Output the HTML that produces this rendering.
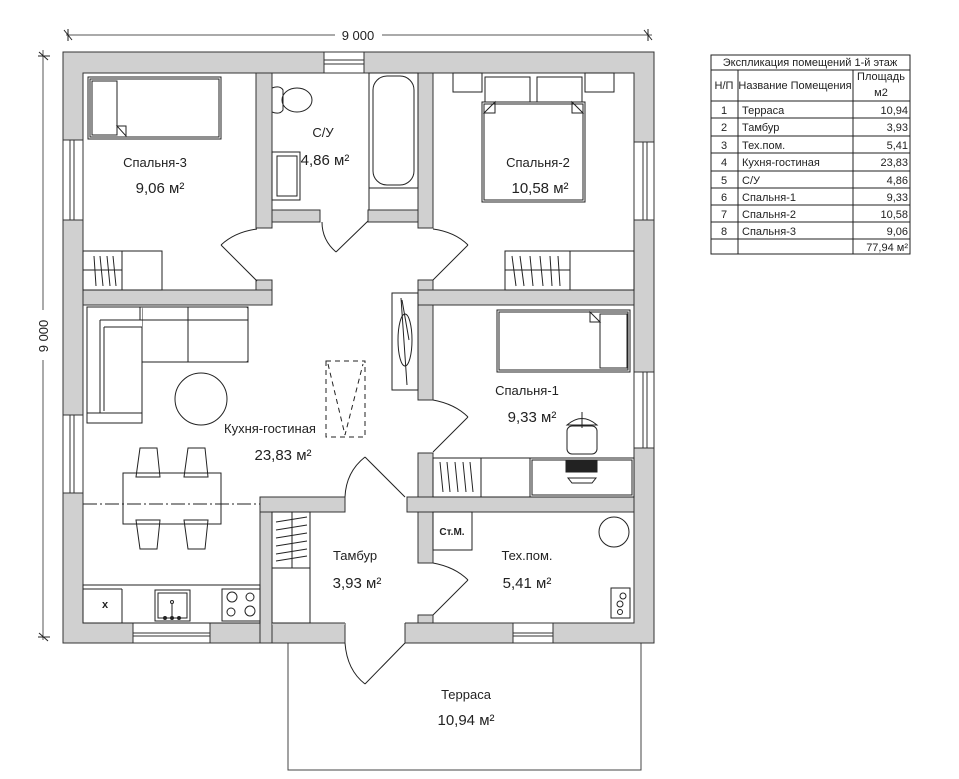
<!DOCTYPE html>
<html><head><meta charset="utf-8"><style>
html,body{margin:0;padding:0;background:#fff;}
svg{display:block;}
text{font-family:"Liberation Sans Narrow","Liberation Sans",sans-serif;fill:#222;}
</style></head><body>
<svg width="959" height="779" viewBox="0 0 959 779" xmlns="http://www.w3.org/2000/svg">
<g stroke="#222" stroke-width="1" fill="none">
<!-- dimension lines -->
<line x1="66" y1="35" x2="335" y2="35" stroke="#555"/>
<line x1="382" y1="35" x2="652" y2="35" stroke="#555"/>
<line x1="64" y1="30" x2="72" y2="40"/><line x1="68" y1="29" x2="68" y2="41"/>
<line x1="644" y1="30" x2="652" y2="40"/><line x1="648" y1="29" x2="648" y2="41"/>
<line x1="43" y1="50" x2="43" y2="310" stroke="#555"/>
<line x1="43" y1="360" x2="43" y2="640" stroke="#555"/>
<line x1="38" y1="56" x2="50" y2="56"/><line x1="39" y1="52" x2="48" y2="60"/>
<line x1="38" y1="637" x2="50" y2="637"/><line x1="39" y1="633" x2="48" y2="641"/>
</g>
<text x="358" y="40" font-size="13" text-anchor="middle">9 000</text>
<text transform="translate(48,336) rotate(-90)" font-size="13" text-anchor="middle">9 000</text>

<!-- terrace -->
<rect x="288" y="643" width="353" height="127" fill="none" stroke="#444"/>

<!-- walls -->
<g fill="#d0d0d0" stroke="#333" stroke-width="1">
<path fill-rule="evenodd" d="M63 52 H654 V643 H63 Z M83 73 V623 H634 V73 Z"/>
<rect x="256" y="73" width="16" height="155"/>
<rect x="256" y="280" width="16" height="25"/>
<rect x="83" y="290" width="189" height="15"/>
<rect x="272" y="210" width="48" height="12"/>
<rect x="368" y="210" width="50" height="12"/>
<rect x="418" y="73" width="15" height="155"/>
<rect x="418" y="280" width="15" height="120"/>
<rect x="418" y="290" width="216" height="15"/>
<rect x="418" y="453" width="15" height="44"/>
<rect x="407" y="497" width="227" height="15"/>
<rect x="418" y="512" width="15" height="51"/>
<rect x="418" y="615" width="15" height="8"/>
<rect x="260" y="497" width="85" height="15"/>
<rect x="260" y="512" width="12" height="131"/>
</g>
<!-- bottom wall entrance gap -->
<rect x="345" y="622" width="60" height="22" fill="#fff"/>
<line x1="345" y1="623" x2="345" y2="643" stroke="#333"/>
<line x1="405" y1="623" x2="405" y2="643" stroke="#333"/>
<rect x="272" y="623.5" width="73" height="1" fill="#d0d0d0"/>
<!-- windows -->
<g fill="#fff" stroke="#333">
<rect x="324" y="52" width="40" height="21"/>
<rect x="63" y="140" width="20" height="80"/>
<rect x="63" y="415" width="20" height="78"/>
<rect x="634" y="142" width="20" height="78"/>
<rect x="634" y="372" width="20" height="76"/>
<rect x="133" y="623" width="77" height="20"/>
<rect x="513" y="623" width="40" height="20"/>
</g>
<g stroke="#333" fill="none">
<line x1="324" y1="60" x2="364" y2="60"/><line x1="324" y1="64" x2="364" y2="64"/>
<line x1="70" y1="140" x2="70" y2="220"/><line x1="74" y1="140" x2="74" y2="220"/>
<line x1="70" y1="415" x2="70" y2="493"/><line x1="74" y1="415" x2="74" y2="493"/>
<line x1="643" y1="142" x2="643" y2="220"/><line x1="647" y1="142" x2="647" y2="220"/>
<line x1="643" y1="372" x2="643" y2="448"/><line x1="647" y1="372" x2="647" y2="448"/>
<line x1="133" y1="633" x2="210" y2="633"/><line x1="133" y1="636" x2="210" y2="636"/>
<line x1="513" y1="633" x2="553" y2="633"/><line x1="513" y1="636" x2="553" y2="636"/>
</g>

<!-- doors -->
<g stroke="#222" fill="none">
<line x1="257" y1="281" x2="221" y2="245"/><path d="M221 245 Q235 232 257 229"/>
<line x1="368" y1="221" x2="336" y2="252"/><path d="M322 222 Q322 240 336 252"/>
<line x1="433" y1="280" x2="468" y2="245"/><path d="M468 245 Q455 232 433 229"/>
<line x1="433" y1="452" x2="468" y2="417"/><path d="M468 417 Q455 404 433 400"/>
<line x1="433" y1="615" x2="468" y2="580"/><path d="M468 580 Q455 567 433 563"/>
<line x1="405" y1="497" x2="365" y2="457"/><path d="M365 457 Q346 472 345 497"/>
<line x1="405" y1="643" x2="365" y2="684"/><path d="M345 643 Q347 670 365 684"/>
</g>

<!-- furniture -->
<g stroke="#222" fill="none">
<!-- Sp3 bed -->
<rect x="88" y="77" width="133" height="62"/><rect x="90" y="79" width="129" height="58"/>
<rect x="92" y="81" width="25" height="54"/>
<path d="M117 126 L126 126 L126 136 Z"/>
<!-- Sp3 wardrobe -->
<rect x="83" y="251" width="79" height="39"/><line x1="122" y1="251" x2="122" y2="290"/>
<line x1="83" y1="270" x2="122" y2="270"/>
<path d="M94 256 L96 286 M100 256 L103 286 M107 256 L110 286 M113 256 L116 286"/>
<!-- toilet -->
<path d="M272 88 Q280 85 283 90 L283 110 Q280 115 272 112"/>
<ellipse cx="297" cy="100" rx="15" ry="12"/>
<!-- wc sink -->
<rect x="272" y="152" width="28" height="48"/><rect x="277" y="156" width="20" height="40"/>
<!-- bathtub -->
<rect x="369" y="73" width="49" height="115"/><rect x="373" y="76" width="41" height="109" rx="14"/>
<line x1="369" y1="188" x2="418" y2="188"/><line x1="369" y1="210" x2="369" y2="188"/>
<!-- Sp2 bed -->
<rect x="453" y="73" width="29" height="19"/><rect x="585" y="73" width="29" height="19"/>
<rect x="485" y="77" width="45" height="25"/><rect x="537" y="77" width="45" height="25"/>
<rect x="482" y="102" width="103" height="100"/><rect x="484" y="104" width="99" height="96"/>
<path d="M484 113 L495 102 L495 113 Z M583 113 L572 102 L572 113 Z"/>
<!-- Sp2 wardrobe -->
<rect x="505" y="251" width="129" height="39"/><line x1="570" y1="251" x2="570" y2="290"/>
<line x1="505" y1="270" x2="570" y2="270"/>
<path d="M512 256 L516 286 M520 256 L524 286 M530 256 L533 286 M540 256 L543 286 M550 256 L552 286 M558 256 L560 286"/>
<!-- Sp1 bed -->
<rect x="497" y="310" width="133" height="62"/><rect x="499" y="312" width="129" height="58"/>
<rect x="600" y="314" width="27" height="54"/><path d="M590 312 L600 322 L590 322 Z"/>
<!-- Sp1 desk/wardrobe -->
<rect x="433" y="458" width="48" height="39"/><rect x="481" y="458" width="49" height="39"/>
<rect x="530" y="458" width="104" height="39"/><rect x="532" y="460" width="100" height="35"/>
<path d="M440 462 L443 492 M447 462 L450 492 M455 462 L458 492 M463 462 L466 492 M470 462 L473 492"/>
<rect x="567" y="426" width="30" height="28" rx="5"/>
<path d="M567 425 Q582 412 597 425 Z"/><line x1="582" y1="412" x2="582" y2="428"/>
<rect x="566" y="461" width="31" height="11" fill="#222"/>
<path d="M568 478 H596 L592 483 H572 Z"/>
<!-- Tech -->
<rect x="433" y="512" width="39" height="38"/>
<circle cx="614" cy="532" r="15"/>
<rect x="611" y="588" width="19" height="30"/>
<circle cx="623" cy="596" r="3"/><circle cx="620" cy="604" r="3"/><circle cx="620" cy="612" r="2.5"/>
<!-- plant -->
<rect x="392" y="293" width="26" height="97"/>
<ellipse cx="405" cy="340" rx="7" ry="26"/><path d="M401 298 L407 385 M402 300 L409 340"/>
<!-- dashed -->
<rect x="326" y="361" width="39" height="76" stroke-dasharray="5,4"/>
<path d="M328 364 L345 435 L363 364" stroke-dasharray="5,4"/>
<!-- sofa -->
<rect x="87" y="307" width="161" height="55" rx="2"/>
<rect x="87" y="307" width="55" height="116" rx="2"/>
<rect x="87" y="307" width="55" height="116" fill="#fff" stroke="none" x2="0"/>
<path d="M87 307 H248 V362 H142 V423 H87 Z"/>
<path d="M100 320 H248 M100 320 V413 M104 327 V411 M104 327 H142 M142 327 V362 M188 307 V362 M140 307 V320 M87 413 H142"/>
<circle cx="201" cy="399" r="26"/>
<!-- dining -->
<rect x="123" y="473" width="98" height="51"/>
<path d="M136 477 L140 448 H157 L160 477 Z M184 477 L188 448 H205 L208 477 Z"/>
<path d="M136 520 L140 549 H157 L160 520 Z M184 520 L188 549 H205 L208 520 Z"/>
<line x1="83" y1="504" x2="260" y2="504" stroke-dasharray="14,3,2,3"/>
<!-- kitchen -->
<rect x="83" y="585" width="177" height="38"/>
<line x1="83" y1="589" x2="122" y2="589"/><line x1="122" y1="589" x2="122" y2="623"/>
<rect x="155" y="590" width="35" height="31"/><rect x="158" y="593" width="29" height="25"/>
<line x1="172" y1="604" x2="172" y2="617"/><circle cx="172" cy="602" r="1.5"/>
<circle cx="165" cy="618" r="1.5" fill="#222"/><circle cx="172" cy="618" r="1.5" fill="#222"/><circle cx="179" cy="618" r="1.5" fill="#222"/>
<rect x="222" y="589" width="38" height="32"/>
<circle cx="232" cy="597" r="5"/><circle cx="250" cy="597" r="4"/><circle cx="231" cy="612" r="4"/><circle cx="250" cy="611" r="5"/>
<!-- tambur wardrobe -->
<rect x="272" y="512" width="38" height="111"/><line x1="272" y1="568" x2="310" y2="568"/>
<line x1="292" y1="512" x2="292" y2="568"/>
<path d="M276 522 L307 517 M276 530 L307 525 M276 538 L307 533 M276 546 L307 541 M276 554 L307 549 M276 561 L307 556"/>
</g>
<text x="102" y="608" font-size="11" font-weight="bold">x</text>
<text x="452" y="535" font-size="10" font-weight="bold" text-anchor="middle" font-family="Liberation Sans">Ст.М.</text>

<!-- room labels -->
<g font-size="13" text-anchor="middle">
<text x="155" y="167">Спальня-3</text><text x="160" y="193" font-size="15">9,06 м²</text>
<text x="323" y="137">С/У</text><text x="325" y="165" font-size="15">4,86 м²</text>
<text x="538" y="167">Спальня-2</text><text x="540" y="193" font-size="15">10,58 м²</text>
<text x="270" y="433">Кухня-гостиная</text><text x="283" y="460" font-size="15">23,83 м²</text>
<text x="527" y="395">Спальня-1</text><text x="532" y="422" font-size="15">9,33 м²</text>
<text x="355" y="560">Тамбур</text><text x="357" y="588" font-size="15">3,93 м²</text>
<text x="527" y="560">Тех.пом.</text><text x="527" y="588" font-size="15">5,41 м²</text>
<text x="466" y="699">Терраса</text><text x="466" y="725" font-size="15">10,94 м²</text>
</g>

<!-- table -->
<g stroke="#222" fill="none">
<rect x="711" y="55" width="199" height="199"/>
<line x1="711" y1="70" x2="910" y2="70"/>
<line x1="711" y1="101" x2="910" y2="101"/>
<line x1="711" y1="118" x2="910" y2="118"/><line x1="711" y1="136" x2="910" y2="136"/>
<line x1="711" y1="153" x2="910" y2="153"/><line x1="711" y1="171" x2="910" y2="171"/>
<line x1="711" y1="188" x2="910" y2="188"/><line x1="711" y1="205" x2="910" y2="205"/>
<line x1="711" y1="222" x2="910" y2="222"/><line x1="711" y1="239" x2="910" y2="239"/>
<line x1="738" y1="70" x2="738" y2="254"/><line x1="853" y1="70" x2="853" y2="254"/>
</g>
<g font-size="11">
<text x="810" y="66" text-anchor="middle">Экспликация помещений 1-й этаж</text>
<text x="724" y="89" text-anchor="middle">Н/П</text>
<text x="795" y="89" text-anchor="middle">Название Помещения</text>
<text x="881" y="80" text-anchor="middle">Площадь</text>
<text x="881" y="96" text-anchor="middle">м2</text>
<g text-anchor="middle">
<text x="724" y="114">1</text><text x="724" y="131">2</text><text x="724" y="149">3</text><text x="724" y="166">4</text>
<text x="724" y="184">5</text><text x="724" y="201">6</text><text x="724" y="218">7</text><text x="724" y="235">8</text>
</g>
<text x="742" y="114">Терраса</text><text x="742" y="131">Тамбур</text><text x="742" y="149">Тех.пом.</text>
<text x="742" y="166">Кухня-гостиная</text><text x="742" y="184">С/У</text><text x="742" y="201">Спальня-1</text>
<text x="742" y="218">Спальня-2</text><text x="742" y="235">Спальня-3</text>
<g text-anchor="end">
<text x="908" y="114">10,94</text><text x="908" y="131">3,93</text><text x="908" y="149">5,41</text>
<text x="908" y="166">23,83</text><text x="908" y="184">4,86</text><text x="908" y="201">9,33</text>
<text x="908" y="218">10,58</text><text x="908" y="235">9,06</text><text x="908" y="251">77,94 м²</text>
</g>
</g>
</svg>
</body></html>
